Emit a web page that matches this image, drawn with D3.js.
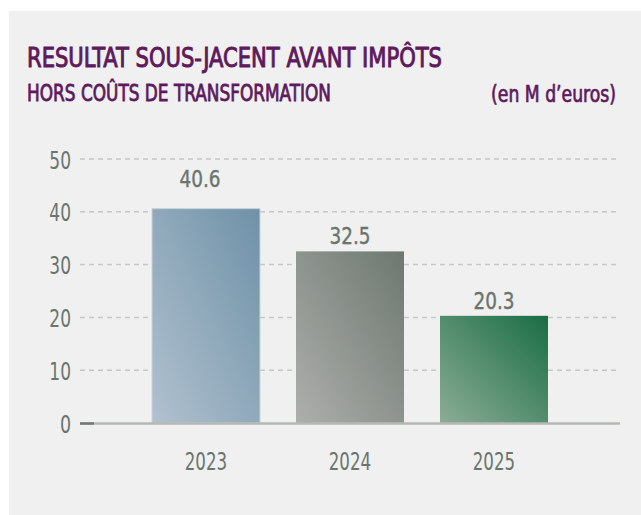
<!DOCTYPE html>
<html>
<head>
<meta charset="utf-8">
<script src="https://cdn.jsdelivr.net/npm/d3@7"></script>
<style>
  html, body { margin: 0; padding: 0; background: #ffffff; }
  svg { display: block; }
  text { font-family: "DejaVu Sans Condensed", "Liberation Sans Narrow", "Roboto", sans-serif; }
</style>
</head>
<body>
<svg id="chart" width="641" height="515"></svg>
<script>
// ---- data ----
const categories = ["2023", "2024", "2025"];
const values = [40.6, 32.5, 20.3];
const valueLabels = ["40.6", "32.5", "20.3"];
const yTicks = [0, 10, 20, 30, 40, 50];
const title = "RESULTAT SOUS-JACENT AVANT IMPÔTS";
const subtitle = "HORS COÛTS DE TRANSFORMATION";
const unitLabel = "(en M d\u2019euros)";

// ---- styling ----
const gradients = [
  { light: "#b1c1cf", dark: "#6f91a7" },
  { light: "#aeafac", dark: "#6d7870" },
  { light: "#8cad95", dark: "#1a6d46" }
];
const textGray = "#6b756e";
const purple = "#5e1a5c";
const charW = 10.6; // condensed digit width

const svg = d3.select("#chart");

// horizontally condense a text (anchored at x,y) to a target ink width
function condense(sel, x, y, target, anchor) {
  sel.attr("x", 0).attr("y", 0).attr("text-anchor", anchor || "start");
  const w = sel.node().getComputedTextLength();
  const sx = target / w;
  sel.attr("transform", `translate(${x},${y}) scale(${sx},1)`);
  return sel;
}

// panel background
svg.append("rect")
  .attr("x", 9).attr("y", 11)
  .attr("width", 632).attr("height", 504)
  .attr("fill", "#eff0ef");

// gradients
const defs = svg.append("defs");
gradients.forEach((g, i) => {
  const lg = defs.append("linearGradient")
    .attr("id", "grad" + i)
    .attr("x1", 0).attr("y1", 1).attr("x2", 1).attr("y2", 0);
  lg.append("stop").attr("offset", "0%").attr("stop-color", g.light);
  lg.append("stop").attr("offset", "100%").attr("stop-color", g.dark);
});

// titles
const tTitle = svg.append("text")
  .attr("font-size", 26)
  .attr("fill", purple)
  .attr("stroke", purple).attr("stroke-width", 0.9)
  .text(title);
condense(tTitle, 27, 66.5, 415);

const tSub = svg.append("text")
  .attr("font-size", 23)
  .attr("fill", purple)
  .attr("stroke", purple).attr("stroke-width", 0.8)
  .text(subtitle);
condense(tSub, 27, 101, 304);

const tUnit = svg.append("text")
  .attr("font-size", 23)
  .attr("fill", purple)
  .attr("stroke", purple).attr("stroke-width", 0.7)
  .text(unitLabel);
condense(tUnit, 616, 102, 125, "end");

// scales
const y = d3.scaleLinear().domain([0, 50]).range([423, 159]);
const x = d3.scaleBand().domain(categories).range([116, 584])
  .paddingInner(0.25).paddingOuter(0.25);

const gridLeft = 80, gridRight = 620;

// gridlines
svg.append("g").selectAll("line")
  .data(yTicks.filter(d => d > 0))
  .join("line")
  .attr("x1", gridLeft).attr("x2", gridRight)
  .attr("y1", d => y(d)).attr("y2", d => y(d))
  .attr("stroke", "#c6c8c5")
  .attr("stroke-width", 1.5)
  .attr("stroke-dasharray", "5,4");

// y axis labels
const yAxis = d3.axisLeft(y).tickValues(yTicks).tickSize(0).tickPadding(0);
const yg = svg.append("g").attr("transform", "translate(71,0)").call(yAxis);
yg.select(".domain").remove();
yg.selectAll("text")
  .attr("font-size", 25)
  .attr("fill", textGray)
  .attr("font-family", null)
  .attr("dy", "0.36em")
  .attr("textLength", function () { return this.textContent.length * charW + 0.5; })
  .attr("lengthAdjust", "spacingAndGlyphs");

// bars
svg.append("g").selectAll("rect")
  .data(values)
  .join("rect")
  .attr("x", (d, i) => x(categories[i]))
  .attr("y", d => y(d))
  .attr("width", x.bandwidth())
  .attr("height", d => y(0) - y(d))
  .attr("fill", (d, i) => "url(#grad" + i + ")")
  .attr("stroke", (d, i) => i === 0 ? "#c9d3dc" : "none")
  .attr("stroke-width", 1);

// baseline
svg.append("line")
  .attr("x1", gridLeft).attr("x2", gridRight)
  .attr("y1", y(0) + 0.5).attr("y2", y(0) + 0.5)
  .attr("stroke", "#b6b8b4").attr("stroke-width", 2.5);
svg.append("line")
  .attr("x1", gridLeft).attr("x2", gridLeft + 14)
  .attr("y1", y(0) + 0.5).attr("y2", y(0) + 0.5)
  .attr("stroke", "#6f7a72").attr("stroke-width", 2.5);

// value labels
const labelDx = [-6, 0, 0];
const labelGap = [22, 7, 6.5];
svg.append("g").selectAll("text")
  .data(values)
  .join("text")
  .attr("x", (d, i) => x(categories[i]) + x.bandwidth() / 2 + labelDx[i])
  .attr("y", (d, i) => y(d) - labelGap[i])
  .attr("text-anchor", "middle")
  .attr("font-size", 23)
  .attr("fill", textGray)
  .attr("stroke", textGray).attr("stroke-width", 0.4)
  .attr("textLength", 41)
  .attr("lengthAdjust", "spacingAndGlyphs")
  .text((d, i) => valueLabels[i]);

// x axis labels
const xAxis = d3.axisBottom(x).tickSize(0).tickPadding(0);
const xg = svg.append("g").attr("transform", "translate(0,452)").call(xAxis);
xg.select(".domain").remove();
xg.selectAll("text")
  .attr("font-size", 25)
  .attr("fill", textGray)
  .attr("font-family", null)
  .attr("dy", "0.72em")
  .attr("textLength", 42.5)
  .attr("lengthAdjust", "spacingAndGlyphs");
</script>
</body>
</html>
